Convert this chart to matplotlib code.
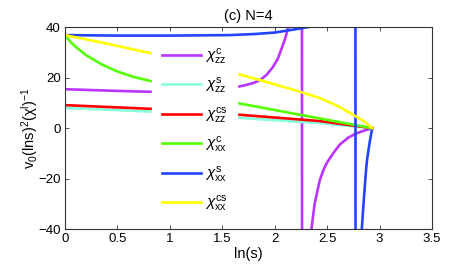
import numpy as np
import matplotlib
matplotlib.use("Agg")
import matplotlib.pyplot as plt

plt.rcParams['font.family'] = ['Liberation Sans', 'DejaVu Sans']
plt.rcParams['mathtext.fontset'] = 'custom'
plt.rcParams['mathtext.rm'] = 'Liberation Sans'
plt.rcParams['mathtext.it'] = 'Liberation Sans:italic'

# --- datos (ln(s), valor) ---
# chi_zz^c (polo cerca de 2.26)
x_zz_c = [0, 0.3, 0.6, 0.9, 1.1, 1.3, 1.45, 1.57, 1.7, 1.8, 1.86, 1.92, 1.98, 2.03,
          2.07, 2.1, 2.13, 2.18, 2.22, 2.255,
          2.265, 2.31, 2.35, 2.38, 2.43, 2.47, 2.5, 2.56, 2.62, 2.7, 2.77, 2.85, 2.93]
y_zz_c = [15.4, 15.0, 14.6, 14.3, 14.2, 14.5, 15.0, 15.8, 16.8, 17.9, 19, 21, 24, 27.5,
          32, 35.5, 40, 52, 80, 500,
          -500, -70, -40, -30, -20.5, -16, -13.5, -9.8, -6.5, -3.8, -2.2, -1.0, 0]
# chi_zz^s
x_zz_s = [0, 0.9, 1.57, 2.43, 2.93]
y_zz_s = [8.0, 6.4, 4.3, 2.0, 0]
# chi_zz^cs
x_zz_cs = [0, 0.9, 1.57, 2.43, 2.93]
y_zz_cs = [9.1, 7.5, 5.6, 2.8, 0]
# chi_xx^c
x_xx_c = [0, 0.05, 0.1, 0.2, 0.35, 0.5, 0.65, 0.81, 1.0, 1.2, 1.4, 1.57, 2.24, 2.93]
y_xx_c = [36.8, 34.2, 32.2, 28.9, 25.2, 22.4, 20.3, 18.7, 16.5, 14.2, 12.2, 10.5, 5.3, 0]
# chi_xx^s (polo cerca de 2.77)
x_xx_s = [0, 0.5, 1.0, 1.57, 1.8, 2.0, 2.24, 2.35, 2.5, 2.7, 2.765,
          2.775, 2.8, 2.83, 2.85, 2.87, 2.88, 2.9, 2.91, 2.93]
y_xx_s = [36.8, 36.6, 36.6, 36.8, 37.2, 37.8, 39.4, 40.2, 44, 80, 600,
          -600, -70, -40, -28, -17, -12.6, -7, -4.5, 0]
# chi_xx^cs
x_xx_cs = [0, 0.38, 0.81, 1.2, 1.57, 1.86, 2.24, 2.43, 2.6, 2.75, 2.85, 2.93]
y_xx_cs = [36.8, 33.6, 29.7, 26.0, 22.3, 19.0, 14.4, 11.9, 8.8, 5.2, 2.8, 0]

series = [
    (x_zz_c, y_zz_c, '#bb33ff', r'$\chi^{\rm c}_{\rm zz}$'),
    (x_zz_s, y_zz_s, '#88ffdd', r'$\chi^{\rm s}_{\rm zz}$'),
    (x_zz_cs, y_zz_cs, '#ff0000', r'$\chi^{\rm cs}_{\rm zz}$'),
    (x_xx_c, y_xx_c, '#55ff00', r'$\chi^{\rm c}_{\rm xx}$'),
    (x_xx_s, y_xx_s, '#2244ff', r'$\chi^{\rm s}_{\rm xx}$'),
    (x_xx_cs, y_xx_cs, '#ffff00', r'$\chi^{\rm cs}_{\rm xx}$'),
]

fig = plt.figure(figsize=(4.77, 2.70), dpi=100)
ax = fig.add_axes([0.1363, 0.1507, 0.7694, 0.7493])

for xs, ys, col, lab in series:
    ax.plot(xs, ys, color=col, linewidth=1.9, label=lab)

ax.set_xlim(0, 3.5)
ax.set_ylim(-40, 40)
ax.set_xticks([0, 0.5, 1, 1.5, 2, 2.5, 3, 3.5])
ax.set_xticklabels(['0', '0.5', '1', '1.5', '2', '2.5', '3', '3.5'])
ax.set_yticks([-40, -20, 0, 20, 40])
ax.tick_params(direction='in', top=True, right=True, length=3, width=0.6,
               labelsize=9.5, colors='#333333', labelcolor='black', pad=3)
for sp in ax.spines.values():
    sp.set_color('#333333')
    sp.set_linewidth(0.8)

ax.set_title('(c) N=4', fontsize=10.5, pad=5)
ax.set_xlabel('ln(s)', fontsize=10.5, labelpad=1)
ax.set_ylabel(r'$\mathrm{v_0(lns)^2(\chi^l)^{-1}}$', fontsize=10.5, labelpad=-1)

leg = ax.legend(loc='upper left', bbox_to_anchor=(0.238, 0.948), frameon=True,
                fontsize=11, handlelength=2.6, handletextpad=0.25,
                labelspacing=0.62, borderpad=0.6, borderaxespad=0)
leg.get_frame().set_edgecolor('white')
leg.get_frame().set_facecolor('white')
leg.get_frame().set_alpha(1)

plt.savefig('out.png', dpi=100)
